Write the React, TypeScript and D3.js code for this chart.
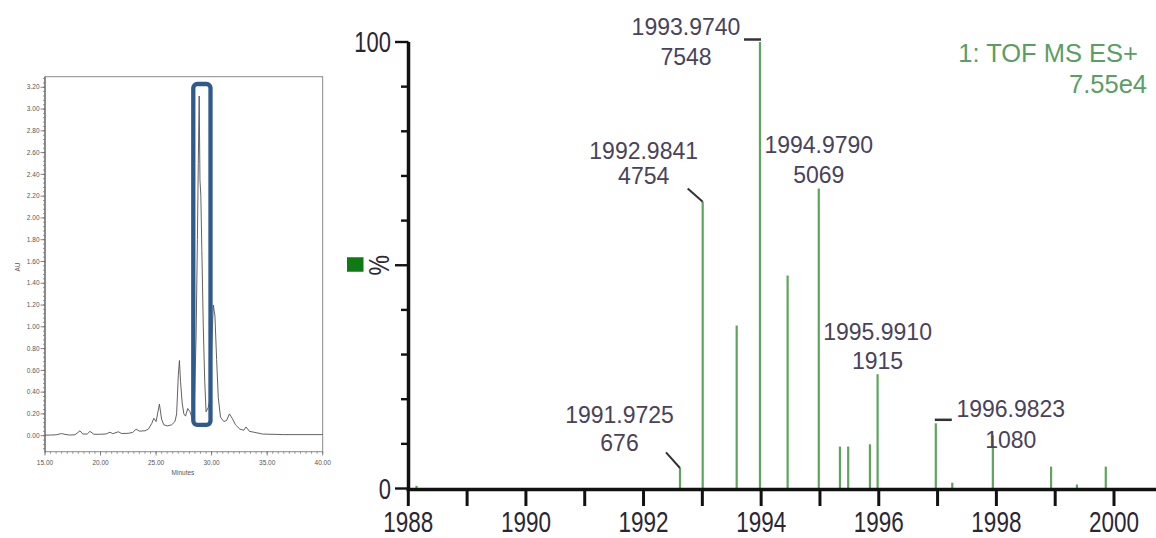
import * as d3 from 'd3'
import { useEffect, useRef } from 'react'

// left panel: HPLC trace
const rtMinutes = [
  15.0, 15.5, 16.0, 16.5, 16.8, 17.2, 17.7, 18.15, 18.4, 18.8, 19.05, 19.4, 20.0, 20.5, 20.85, 21.1,
  21.6, 21.9, 22.5, 22.9, 23.2, 23.5, 24.0, 24.3, 24.6, 24.8, 25.0, 25.3, 25.5, 25.7, 26.0, 26.4,
  26.7, 26.85, 27.0, 27.1, 27.2, 27.35, 27.5, 27.65, 27.85, 28.05, 28.25, 28.45, 28.6, 28.72, 28.8,
  28.88, 28.95, 29.03, 29.12, 29.25, 29.38, 29.5, 29.7, 29.88, 30.0, 30.15, 30.3, 30.45, 30.6, 30.8,
  31.1, 31.35, 31.6, 31.85, 32.15, 32.55, 32.9, 33.1, 33.4, 33.9, 34.6, 36.5, 40.0,
]
const absorbanceAU = [
  0.005, 0.006, 0.008, 0.02, 0.012, 0.006, 0.008, 0.045, 0.015, 0.015, 0.04, 0.013, 0.013, 0.016,
  0.032, 0.018, 0.036, 0.02, 0.022, 0.03, 0.06, 0.042, 0.045, 0.06, 0.11, 0.16, 0.13, 0.29, 0.15,
  0.1, 0.09, 0.1, 0.13, 0.2, 0.55, 0.69, 0.5, 0.3, 0.2, 0.18, 0.25, 0.22, 0.16, 0.3, 0.9, 1.8, 2.5,
  3.12, 2.35, 2.2, 1.7, 1.0, 0.5, 0.22, 0.26, 0.35, 0.8, 1.2, 1.1, 0.7, 0.35, 0.17, 0.13, 0.14, 0.2,
  0.16, 0.1, 0.06, 0.05, 0.08, 0.04, 0.03, 0.015, 0.01, 0.01,
]
const auTicks = [0, 0.2, 0.4, 0.6, 0.8, 1.0, 1.2, 1.4, 1.6, 1.8, 2.0, 2.2, 2.4, 2.6, 2.8, 3.0, 3.2]
const minuteTicks = [15, 20, 25, 30, 35, 40]
const boxedRange = [28.35, 29.9] // minutes inside the highlight box

// right panel: TOF MS spectrum
const peakMz = [
  1988.14, 1992.62, 1993.006, 1993.584, 1993.98, 1994.45, 1994.98, 1995.34, 1995.48, 1995.85,
  1995.98, 1996.97, 1997.25, 1997.94, 1998.93, 1999.37, 1999.86,
]
const peakPct = [0.6, 4.6, 64.2, 36.5, 100, 47.7, 67.2, 9.4, 9.4, 9.9, 25.6, 14.6, 1.3, 11.9, 4.9, 0.9, 4.9]
const labelPeak = [1, 2, 4, 6, 10, 11]
const labelMass = ['1991.9725', '1992.9841', '1993.9740', '1994.9790', '1995.9910', '1996.9823']
const labelCounts = ['676', '4754', '7548', '5069', '1915', '1080']
const mzTicks = [1988, 1989, 1990, 1991, 1992, 1993, 1994, 1995, 1996, 1997, 1998, 1999, 2000]
const mzLabels = [1988, 1990, 1992, 1994, 1996, 1998, 2000]
const pctTicks = [0, 10, 20, 30, 40, 50, 60, 70, 80, 90, 100]

// where each peak label sits relative to its peak top
const labelLayout = [
  { dx: -60.5, dy: -45, gap: 28, leader: 'diag', lx: -14, ly: -15.6 },
  { dx: -59, dy: -43, gap: 25, leader: 'diag', lx: -15, ly: -13.4 },
  { dx: -74, dy: -7, gap: 30, leader: 'left', lx: -16, ly: -2.5 },
  { dx: 0, dy: -35, gap: 30, leader: null, lx: 0, ly: 0 },
  { dx: 0, dy: -34, gap: 28.5, leader: null, lx: 0, ly: 0 },
  { dx: 75, dy: -6, gap: 31, leader: 'right', lx: 16, ly: -3.5 },
]

const FONT = '"Liberation Sans", Arial, sans-serif'

const App = () => {
  const ref = useRef<SVGSVGElement>(null)

  useEffect(() => {
    const svg = d3.select(ref.current)
    svg.selectAll('*').remove()

    // ---------- chromatogram ----------
    var xL = d3.scaleLinear().domain([15, 40]).range([45, 322.7])
    var yL = d3.scaleLinear().domain([-0.147, 3.297]).range([451.7, 76.7])
    var left = svg.append('g')

    left
      .append('rect')
      .attr('x', 45)
      .attr('y', 76.7)
      .attr('width', 277.7)
      .attr('height', 375)
      .attr('fill', 'none')
      .attr('stroke', '#8a8a8a')
      .attr('stroke-width', 1)

    left
      .append('line')
      .attr('x1', 45)
      .attr('x2', 45)
      .attr('y1', 76.7)
      .attr('y2', 451.7)
      .attr('stroke', '#555')

    left
      .selectAll('.minorY')
      .data(d3.range(-0.12, 3.29, 0.04))
      .enter()
      .append('line')
      .attr('x1', 43)
      .attr('x2', 45)
      .attr('y1', (d) => yL(d))
      .attr('y2', (d) => yL(d))
      .attr('stroke', '#777')
      .attr('stroke-width', 0.8)

    left
      .selectAll('.majorY')
      .data(auTicks)
      .enter()
      .append('line')
      .attr('x1', 40.5)
      .attr('x2', 45)
      .attr('y1', (d) => yL(d))
      .attr('y2', (d) => yL(d))
      .attr('stroke', '#666')
      .attr('stroke-width', 0.8)

    left
      .selectAll('.labY')
      .data(auTicks)
      .enter()
      .append('text')
      .attr('x', 39.5)
      .attr('y', (d) => yL(d) + 2.2)
      .attr('text-anchor', 'end')
      .style('font-size', '6.5px')
      .style('font-family', FONT)
      .attr('fill', '#555')
      .text((d) => d.toFixed(2))

    left
      .selectAll('.minorX')
      .data(d3.range(15, 40.01, 0.5))
      .enter()
      .append('line')
      .attr('x1', (d) => xL(d))
      .attr('x2', (d) => xL(d))
      .attr('y1', 451.7)
      .attr('y2', 453.7)
      .attr('stroke', '#777')
      .attr('stroke-width', 0.8)

    left
      .selectAll('.majorX')
      .data(minuteTicks)
      .enter()
      .append('line')
      .attr('x1', (d) => xL(d))
      .attr('x2', (d) => xL(d))
      .attr('y1', 451.7)
      .attr('y2', 455.5)
      .attr('stroke', '#666')
      .attr('stroke-width', 0.8)

    left
      .selectAll('.labX')
      .data(minuteTicks)
      .enter()
      .append('text')
      .attr('x', (d) => xL(d))
      .attr('y', 464.5)
      .attr('text-anchor', 'middle')
      .style('font-size', '6.5px')
      .style('font-family', FONT)
      .attr('fill', '#555')
      .text((d) => d.toFixed(2))

    left
      .append('text')
      .attr('x', 183)
      .attr('y', 475)
      .attr('text-anchor', 'middle')
      .style('font-size', '6.5px')
      .style('font-family', FONT)
      .attr('fill', '#555')
      .text('Minutes')

    left
      .append('text')
      .attr('transform', 'translate(20,267) rotate(-90)')
      .attr('text-anchor', 'middle')
      .style('font-size', '6.5px')
      .style('font-family', FONT)
      .attr('fill', '#555')
      .text('AU')

    var trace = d3
      .line<number>()
      .x((d, i) => xL(rtMinutes[i]))
      .y((d) => yL(d))

    left
      .append('path')
      .attr('d', trace(absorbanceAU))
      .attr('fill', 'none')
      .attr('stroke', '#505050')
      .attr('stroke-width', 0.9)
      .attr('stroke-linejoin', 'round')

    // highlight box round the main peak
    left
      .append('rect')
      .attr('x', xL(boxedRange[0]))
      .attr('y', yL(3.23))
      .attr('width', xL(boxedRange[1]) - xL(boxedRange[0]))
      .attr('height', yL(0.1) - yL(3.23))
      .attr('rx', 4)
      .attr('fill', 'none')
      .attr('stroke', '#2f5a8d')
      .attr('stroke-width', 4.3)

    // ---------- mass spectrum ----------
    var xR = d3.scaleLinear().domain([1988, 2000]).range([408.3, 1114])
    var yR = d3.scaleLinear().domain([0, 100]).range([488.5, 42])
    var right = svg.append('g')

    right
      .selectAll('.peak')
      .data(peakPct)
      .enter()
      .append('line')
      .attr('x1', (d, i) => xR(peakMz[i]))
      .attr('x2', (d, i) => xR(peakMz[i]))
      .attr('y1', yR(0))
      .attr('y2', (d) => yR(d))
      .attr('stroke', '#5ea45e')
      .attr('stroke-width', 2.2)

    right
      .append('line')
      .attr('x1', 408.5)
      .attr('x2', 408.5)
      .attr('y1', yR(100))
      .attr('y2', 491)
      .attr('stroke', '#111')
      .attr('stroke-width', 3.5)

    right
      .append('line')
      .attr('x1', 406.7)
      .attr('x2', 1156)
      .attr('y1', 489.5)
      .attr('y2', 489.5)
      .attr('stroke', '#111')
      .attr('stroke-width', 3.5)

    right
      .selectAll('.tickY')
      .data(pctTicks)
      .enter()
      .append('line')
      .attr('x1', (d) => (d % 50 === 0 ? 395 : 401))
      .attr('x2', 408.5)
      .attr('y1', (d) => yR(d))
      .attr('y2', (d) => yR(d))
      .attr('stroke', '#111')
      .attr('stroke-width', 2.4)

    right
      .selectAll('.tickX')
      .data(mzTicks)
      .enter()
      .append('line')
      .attr('x1', (d) => xR(d))
      .attr('x2', (d) => xR(d))
      .attr('y1', 489)
      .attr('y2', 506)
      .attr('stroke', '#111')
      .attr('stroke-width', 3)

    right
      .selectAll('.labX')
      .data(mzLabels)
      .enter()
      .append('text')
      .attr('transform', (d) => 'translate(' + xR(d) + ',531.5) scale(1,1.28)')
      .attr('text-anchor', 'middle')
      .style('font-size', '22.5px')
      .style('font-family', FONT)
      .attr('fill', '#2a2733')
      .text((d) => d)

    right
      .selectAll('.labY')
      .data([0, 100])
      .enter()
      .append('text')
      .attr('transform', (d) => 'translate(391,' + (yR(d) + 10) + ') scale(1,1.33)')
      .attr('text-anchor', 'end')
      .style('font-size', '22px')
      .style('font-family', FONT)
      .attr('fill', '#2a2733')
      .text((d) => d)

    right
      .append('text')
      .attr('transform', 'translate(389,' + yR(50) + ') rotate(-90) scale(1,1.25)')
      .attr('text-anchor', 'middle')
      .style('font-size', '23px')
      .style('font-family', FONT)
      .attr('fill', '#2a2733')
      .text('%')

    right
      .append('rect')
      .attr('x', 347)
      .attr('y', yR(50) - 8)
      .attr('width', 16.5)
      .attr('height', 14.5)
      .attr('fill', '#0e7a12')

    right
      .append('text')
      .attr('x', 1138)
      .attr('y', 61.5)
      .attr('text-anchor', 'end')
      .style('font-size', '25.5px')
      .style('font-family', FONT)
      .attr('fill', '#5a9e64')
      .text('1: TOF MS ES+')

    right
      .append('text')
      .attr('x', 1147)
      .attr('y', 93)
      .attr('text-anchor', 'end')
      .style('font-size', '25.5px')
      .style('font-family', FONT)
      .attr('fill', '#5a9e64')
      .text('7.55e4')

    labelPeak.forEach(function (p, k) {
      var lay = labelLayout[k]
      var px = xR(peakMz[p])
      var py = yR(peakPct[p])
      var g = right.append('g')

      g.append('text')
        .attr('x', px + lay.dx)
        .attr('y', py + lay.dy)
        .attr('text-anchor', 'middle')
        .style('font-size', '23px')
        .style('font-family', FONT)
        .attr('fill', '#48435a')
        .text(labelMass[k])

      g.append('text')
        .attr('x', px + lay.dx)
        .attr('y', py + lay.dy + lay.gap)
        .attr('text-anchor', 'middle')
        .style('font-size', '23px')
        .style('font-family', FONT)
        .attr('fill', '#48435a')
        .text(labelCounts[k])

      if (lay.leader === 'diag') {
        g.append('line')
          .attr('x1', px + lay.lx)
          .attr('y1', py + lay.ly)
          .attr('x2', px)
          .attr('y2', py)
          .attr('stroke', '#333')
          .attr('stroke-width', 2)
      } else if (lay.leader) {
        g.append('line')
          .attr('x1', px + lay.lx)
          .attr('y1', py + lay.ly)
          .attr('x2', px + (lay.leader === 'left' ? 1 : -1))
          .attr('y2', py + lay.ly)
          .attr('stroke', '#333')
          .attr('stroke-width', 2.5)
      }
    })
  }, [])

  return (
    <div style={{ position: 'absolute', left: 0, top: 0 }}>
      <svg ref={ref} width={1156} height={538} style={{ display: 'block', background: '#fff' }} />
    </div>
  )
}

export default App
